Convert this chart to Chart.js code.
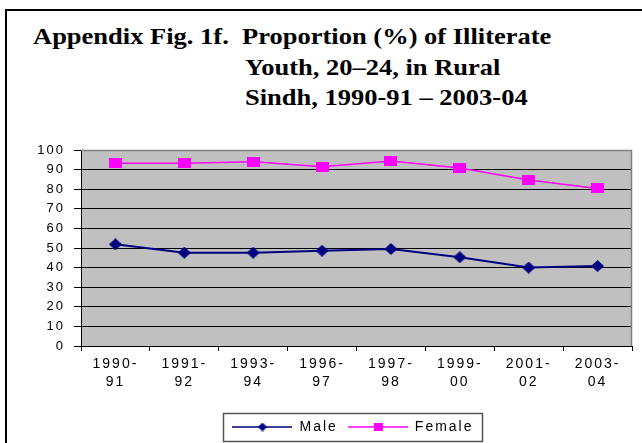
<!DOCTYPE html>
<html>
<head>
<meta charset="utf-8">
<script src="https://cdn.jsdelivr.net/npm/chart.js@4/dist/chart.umd.min.js"></script>
<style>
  html, body { margin: 0; padding: 0; background: #fff; }
  #wrap { position: relative; width: 642px; height: 443px; overflow: hidden; }
  #frame { position: absolute; left: 5px; top: 9px; width: 700px; height: 500px;
           border-left: 2px solid #000; border-top: 2px solid #000; }
  .t { position: absolute; font-family: "Liberation Serif", "Times New Roman", serif;
       font-weight: bold; font-size: 24px; line-height: 24px; white-space: pre; color: #000;
       transform: scaleX(1.104); transform-origin: 0 0; }
  canvas { position: absolute; left: 0; top: 0; }
</style>
</head>
<body>
<div id="wrap">
  <div id="frame"></div>
  <div class="t" style="left:33px; top:24px;">Appendix Fig. 1f.  Proportion (%) of Illiterate</div>
  <div class="t" style="left:245px; top:55px;">Youth, 20–24, in Rural</div>
  <div class="t" style="left:245px; top:85px;">Sindh, 1990-91 – 2003-04</div>
  <canvas id="c" width="642" height="443"></canvas>
</div>
<script>
// ---- data ----
const categories = [["1990-","91"],["1991-","92"],["1993-","94"],["1996-","97"],["1997-","98"],["1999-","00"],["2001-","02"],["2003-","04"]];
const seriesNames = ["Male", "Female"];
const maleValues = [51.9, 47.6, 47.6, 48.6, 49.5, 45.3, 40.0, 40.8];
const femaleValues = [93.2, 93.2, 94.0, 91.5, 94.4, 90.8, 84.7, 80.4];
const yTicks = [0, 10, 20, 30, 40, 50, 60, 70, 80, 90, 100];

const MALE_COLOR = '#000080';
const FEMALE_COLOR = '#FF00FF';

// marker images
function femaleMarker() {
  const c = document.createElement('canvas'); c.width = 13; c.height = 10;
  const x = c.getContext('2d'); x.fillStyle = FEMALE_COLOR; x.fillRect(0, 0, 13, 10);
  return c;
}
function maleMarker() {
  const c = document.createElement('canvas'); c.width = 13; c.height = 12;
  const x = c.getContext('2d'); x.fillStyle = MALE_COLOR;
  x.beginPath(); x.moveTo(6.5, 0); x.lineTo(13, 6); x.lineTo(6.5, 12); x.lineTo(0, 6); x.closePath(); x.fill();
  return c;
}
function legendIcon(color, lw, marker) {
  const c = document.createElement('canvas'); c.width = 60; c.height = 12;
  const x = c.getContext('2d');
  x.strokeStyle = color; x.lineWidth = lw;
  x.beginPath(); x.moveTo(0, 6); x.lineTo(60, 6); x.stroke();
  const k = document.createElement('canvas');
  const g = k.getContext('2d');
  if (marker === 'diamond') {
    k.width = 9; k.height = 9;
    g.fillStyle = color; g.beginPath(); g.moveTo(4.5,0); g.lineTo(9,4.5); g.lineTo(4.5,9); g.lineTo(0,4.5); g.closePath(); g.fill();
  } else {
    k.width = 9; k.height = 8;
    g.fillStyle = color; g.fillRect(0,0,9,8);
  }
  x.drawImage(k, 30 - k.width / 2, 6 - k.height / 2);
  return c;
}
const mMark = maleMarker(), fMark = femaleMarker();
const legendIcons = [legendIcon(MALE_COLOR, 1.5, 'diamond'), legendIcon(FEMALE_COLOR, 1.5, 'square')];

const spacingPlugin = {
  id: 'spacing',
  beforeUpdate(chart) { chart.ctx.letterSpacing = '2px'; },
  beforeDraw(chart) { chart.ctx.letterSpacing = '2px'; }
};

// center the legend under the plot area rather than the whole canvas
const legendShift = {
  id: 'legendShift',
  afterLayout(chart) {
    const lg = chart.legend;
    if (lg) { lg.left = 74; lg.width = lg.right - lg.left; }
  }
};

const bgPlugin = {
  id: 'plotbg',
  beforeDraw(chart) {
    const { ctx, chartArea: a } = chart;
    ctx.save();
    ctx.fillStyle = '#C0C0C0';
    ctx.fillRect(a.left, a.top, a.right - a.left, a.bottom - a.top);
    ctx.restore();
  },
  afterDraw(chart) {
    const { ctx, chartArea: a } = chart;
    ctx.save();
    ctx.strokeStyle = '#808080'; ctx.lineWidth = 1.5;
    ctx.beginPath();
    ctx.moveTo(a.left, a.top + 0.5); ctx.lineTo(a.right - 0.5, a.top + 0.5); ctx.lineTo(a.right - 0.5, a.bottom);
    ctx.stroke();
    // legend frame
    const hb = chart.legend && chart.legend.legendHitBoxes;
    if (hb && hb.length) {
      const l = hb[0].left - 9;
      const r = hb[hb.length - 1].left + hb[hb.length - 1].width + 9;
      const cy = hb[0].top + hb[0].height / 2;
      ctx.strokeStyle = '#555'; ctx.lineWidth = 1.5;
      ctx.strokeRect(Math.round(l) + 0.5, Math.round(cy - 14) + 0.5, Math.round(r - l), 28);
    }
    ctx.restore();
  }
};

new Chart(document.getElementById('c'), {
  type: 'line',
  data: {
    labels: categories,
    datasets: [
      { label: seriesNames[0], data: maleValues, borderColor: MALE_COLOR, backgroundColor: MALE_COLOR,
        borderWidth: 2, pointStyle: mMark, tension: 0 },
      { label: seriesNames[1], data: femaleValues, borderColor: FEMALE_COLOR, backgroundColor: FEMALE_COLOR,
        borderWidth: 1.5, pointStyle: fMark, tension: 0 }
    ]
  },
  options: {
    responsive: false,
    animation: false,
    devicePixelRatio: 1,
    layout: { padding: { top: 150, left: 0, right: 10, bottom: -1 } },
    plugins: {
      title: { display: false },
      tooltip: { enabled: false },
      legend: {
        position: 'bottom',
        labels: {
          usePointStyle: true,
          pointStyleWidth: 60,
          boxHeight: 12,
          padding: 10,
          color: '#000',
          font: { family: 'Liberation Sans, Arial, sans-serif', size: 14 },
          generateLabels: (chart) => chart.data.datasets.map((ds, i) => ({
            text: ds.label, pointStyle: legendIcons[i], fillStyle: ds.borderColor,
            strokeStyle: ds.borderColor, lineWidth: 0, hidden: false, datasetIndex: i, fontColor: '#000'
          }))
        }
      }
    },
    scales: {
      x: {
        offset: true,
        afterFit: (s) => { s.height = 64; },
        grid: { offset: true, drawOnChartArea: false, drawTicks: true, tickLength: 5, tickColor: '#000' },
        border: { color: '#000', width: 1 },
        ticks: {
          autoSkip: false, maxRotation: 0, padding: 4, color: '#000',
          font: { family: 'Liberation Sans, Arial, sans-serif', size: 14, lineHeight: 1.29 }
        }
      },
      y: {
        min: 0, max: 100,
        afterFit: (s) => { s.width = 81; },
        afterBuildTicks: (s) => { s.ticks = yTicks.map(v => ({ value: v })); },
        grid: {
          color: (c) => (c.tick && c.tick.value === 100) ? '#808080' : '#000',
          lineWidth: 1, tickLength: 7, tickColor: '#000'
        },
        border: { color: '#000', width: 1 },
        ticks: {
          autoSkip: false, padding: 9, color: '#000',
          font: { family: 'Liberation Sans, Arial, sans-serif', size: 13 }
        }
      }
    }
  },
  plugins: [spacingPlugin, legendShift, bgPlugin]
});
</script>
</body>
</html>
